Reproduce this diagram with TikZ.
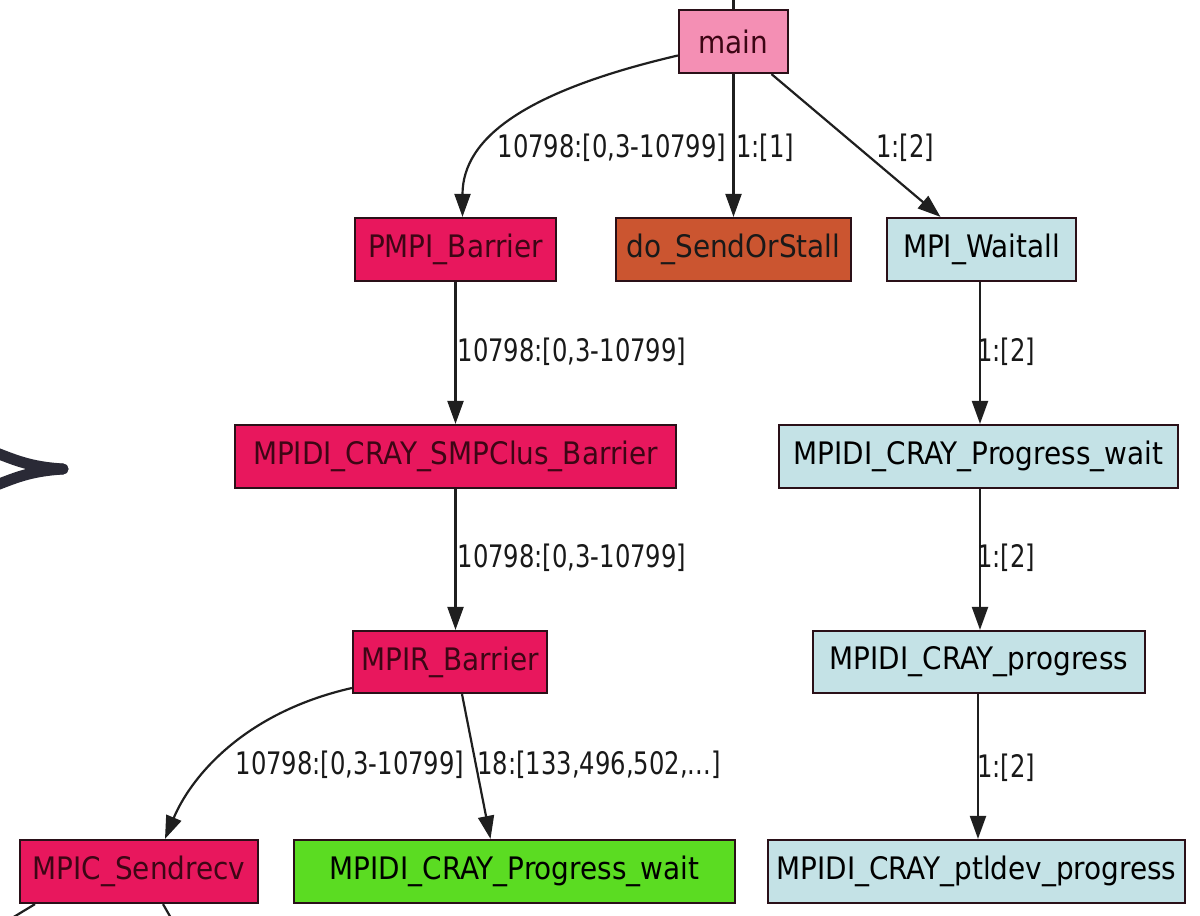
\documentclass[tikz,border=0pt]{standalone}
\usepackage{fontspec}
\setmainfont{DejaVu Sans Condensed}
\newfontfamily\lblfont{DejaVu Sans Condensed}[FakeStretch=0.87]
\usetikzlibrary{arrows.meta}
\definecolor{mainpink}{HTML}{F48FB4}
\definecolor{crim}{HTML}{E8175D}
\definecolor{rust}{HTML}{CB5530}
\definecolor{lblue}{HTML}{C4E2E6}
\definecolor{lgreen}{HTML}{5BDC22}
\definecolor{bord}{HTML}{2A1018}
\definecolor{maroon}{HTML}{3D0615}
\definecolor{chev}{HTML}{2A2A36}
\tikzset{
  fn/.style={draw=bord, line width=2.2pt, inner sep=0pt, minimum height=63pt,
    font=\fontsize{31}{34}\selectfont, text=black},
  hot/.style={fn, fill=crim, text=maroon},
  edge/.style={draw=black!88, line width=2.2pt, -{Triangle[length=23pt,width=16pt]}},
  stub/.style={draw=black!88, line width=2.2pt},
  lbl/.style={font=\lblfont\fontsize{31}{34}\selectfont, inner sep=0pt, text=black!90}
}
\begin{document}
\begin{tikzpicture}[x=1pt,y=-1pt]
\useasboundingbox (0,0) rectangle (1200,916);
% decorative chevron at the left edge
\draw[chev, line width=11pt, line cap=round]
  (-6,452) .. controls (15,460) and (30,467) .. (63,469);
\draw[chev, line width=11pt, line cap=round]
  (-6,486) .. controls (15,478) and (30,471) .. (63,469);

% nodes
\node[fn, fill=mainpink, minimum width=109pt, text=maroon] (main) at (733.5,41.5) {main};
\node[hot, minimum width=201pt] (pmpi) at (455.5,249.5) {PMPI\_Barrier};
\node[fn, fill=rust, minimum width=235pt, text=black!90] (dosend) at (733.5,249.5) {do\_SendOrStall};
\node[fn, fill=lblue, minimum width=189pt] (waitall) at (981.5,249.5) {MPI\_Waitall};
\node[hot, minimum width=441pt] (smp) at (455.5,456.5) {MPIDI\_CRAY\_SMPClus\_Barrier};
\node[fn, fill=lblue, minimum width=399pt] (pw) at (978.5,456.5) {MPIDI\_CRAY\_Progress\_wait};
\node[hot, minimum width=194pt, minimum height=62pt] (mpir) at (450,662) {MPIR\_Barrier};
\node[fn, fill=lblue, minimum width=332pt, minimum height=62pt] (prog) at (979,662) {MPIDI\_CRAY\_progress};
\node[hot, minimum width=238pt] (mpic) at (139,871.5) {MPIC\_Sendrecv};
\node[fn, fill=lgreen, minimum width=441pt] (green) at (514.5,871.5) {MPIDI\_CRAY\_Progress\_wait};
\node[fn, fill=lblue, minimum width=417pt] (ptl) at (976.5,871.5) {MPIDI\_CRAY\_ptldev\_progress};

% stubs
\coordinate (top) at (733.5,-2);
\coordinate (bl) at (12,918);
\coordinate (br) at (171,918);
\draw[stub] (top) -- (main.north);
\draw[stub] ([xshift=-104pt]mpic.south) -- (bl);
\draw[stub] ([xshift=24pt]mpic.south) -- (br);

% edges
\draw[edge] ([yshift=-14pt]main.west) .. controls +(-150,35) and +(0,-80) .. ([xshift=7pt]pmpi.north);
\draw[edge] (main.south) -- (dosend.north);
\draw[edge] ([xshift=38pt]main.south) -- ([xshift=-41pt]waitall.north);
\draw[edge] (pmpi.south) -- (pmpi.south |- smp.north);
\draw[edge] ([xshift=-1.5pt]waitall.south) -- ([xshift=-1.5pt]waitall.south |- pw.north);
\draw[edge] (smp.south) -- (smp.south |- mpir.north);
\draw[edge] ([xshift=1.5pt]pw.south) -- ([xshift=1.5pt]pw.south |- prog.north);
\draw[edge] ([yshift=-26pt]mpir.west) .. controls +(-110,25) and +(25,-60) .. ([xshift=26pt]mpic.north);
\draw[edge] ([xshift=12pt]mpir.south) -- ([xshift=-24pt]green.north);
\draw[edge] ([xshift=-1pt]prog.south) -- ([xshift=-1pt]prog.south |- ptl.north);

% labels
\node[lbl] (l1) at (612,148) {10798:[0,3-10799]};
\node[lbl] (l2) at (765,148) {1:[1]};
\node[lbl] (l3) at (905,148) {1:[2]};
\node[lbl] (l4) at (572,352) {10798:[0,3-10799]};
\node[lbl] (l5) at (1006,352) {1:[2]};
\node[lbl] (l6) at (572,558) {10798:[0,3-10799]};
\node[lbl] (l7) at (1006,558) {1:[2]};
\node[lbl] (l8) at (350,765) {10798:[0,3-10799]};
\node[lbl] (l9) at (599,765) {18:[133,496,502,...]};
\node[lbl] (l10) at (1006,768) {1:[2]};
\end{tikzpicture}
\end{document}
